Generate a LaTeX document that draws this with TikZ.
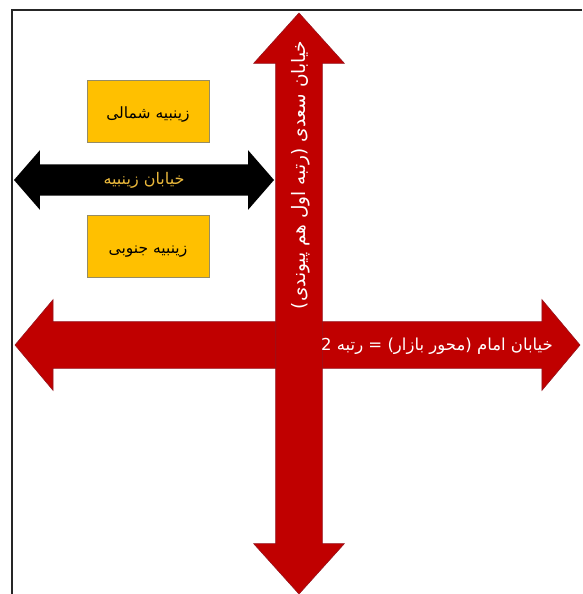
\documentclass[tikz,border=0pt]{standalone}
\usepackage{fontspec}
\newfontfamily\farsi[Script=Arabic]{DejaVu Sans}
\TeXXeTstate=1
\definecolor{roadred}{RGB}{192,0,0}
\definecolor{roadedge}{RGB}{150,20,30}
\definecolor{blockyellow}{RGB}{255,192,0}
\definecolor{blockedge}{RGB}{150,140,100}
\definecolor{goldtext}{RGB}{235,185,60}
\usetikzlibrary{shapes.arrows}

\begin{document}
\begin{tikzpicture}[x=1pt, y=-1pt,
    road/.style={double arrow, fill=roadred, draw=roadedge, line width=0.6pt,
      text height=0pt, text depth=0pt, inner xsep=0pt, inner ysep=23pt,
      double arrow head extend=22pt},
    block/.style={rectangle, fill=blockyellow, draw=blockedge, line width=0.6pt,
      minimum width=122pt, minimum height=62pt, text height=16pt, text depth=2pt,
      font=\farsi\fontsize{15.5}{18}\selectfont},
    lbl/.style={font=\farsi\fontsize{16.5}{19}\selectfont, text=white, inner sep=0pt}
  ]
  \useasboundingbox (0,0) rectangle (582,594);

  % frame
  \draw[line width=1.6pt, black!85] (582,10) -- (12,10) -- (12,594);

  % Imam street (horizontal)
  \node[road, minimum height=565pt, double arrow tip angle=100] (imam) at (297.5,345) {};

  % Saadi street (vertical)
  \node[road, minimum height=581pt, double arrow tip angle=84, rotate=90] (saadi) at (299,303.5) {};

  % labels on the red streets
  \node[lbl, rotate=90, font=\farsi\fontsize{18.5}{21}\selectfont] (saaditxt) at (301,175)
    {\beginR خیابان سعدی (رتبه اول هم پیوندی)\endR};
  \node[lbl] (imamtxt) at (437,346) {\beginR خیابان امام (محور بازار) = رتبه 2\endR};

  % Zeinabiye street
  \node[double arrow, fill=black, text=goldtext, minimum height=260pt,
    double arrow tip angle=98, double arrow head extend=14pt,
    text height=12pt, text depth=3pt, inner ysep=8pt,
    font=\farsi\fontsize{16}{19}\selectfont] (zeinab) at (144,180) {\beginR خیابان زینبیه\endR};

  % north and south blocks
  \node[block] (north) at (148,111) {\beginR زینبیه شمالی\endR};
  \node[block] (south) at (148,246) {\beginR زینبیه جنوبی\endR};
\end{tikzpicture}
\end{document}
